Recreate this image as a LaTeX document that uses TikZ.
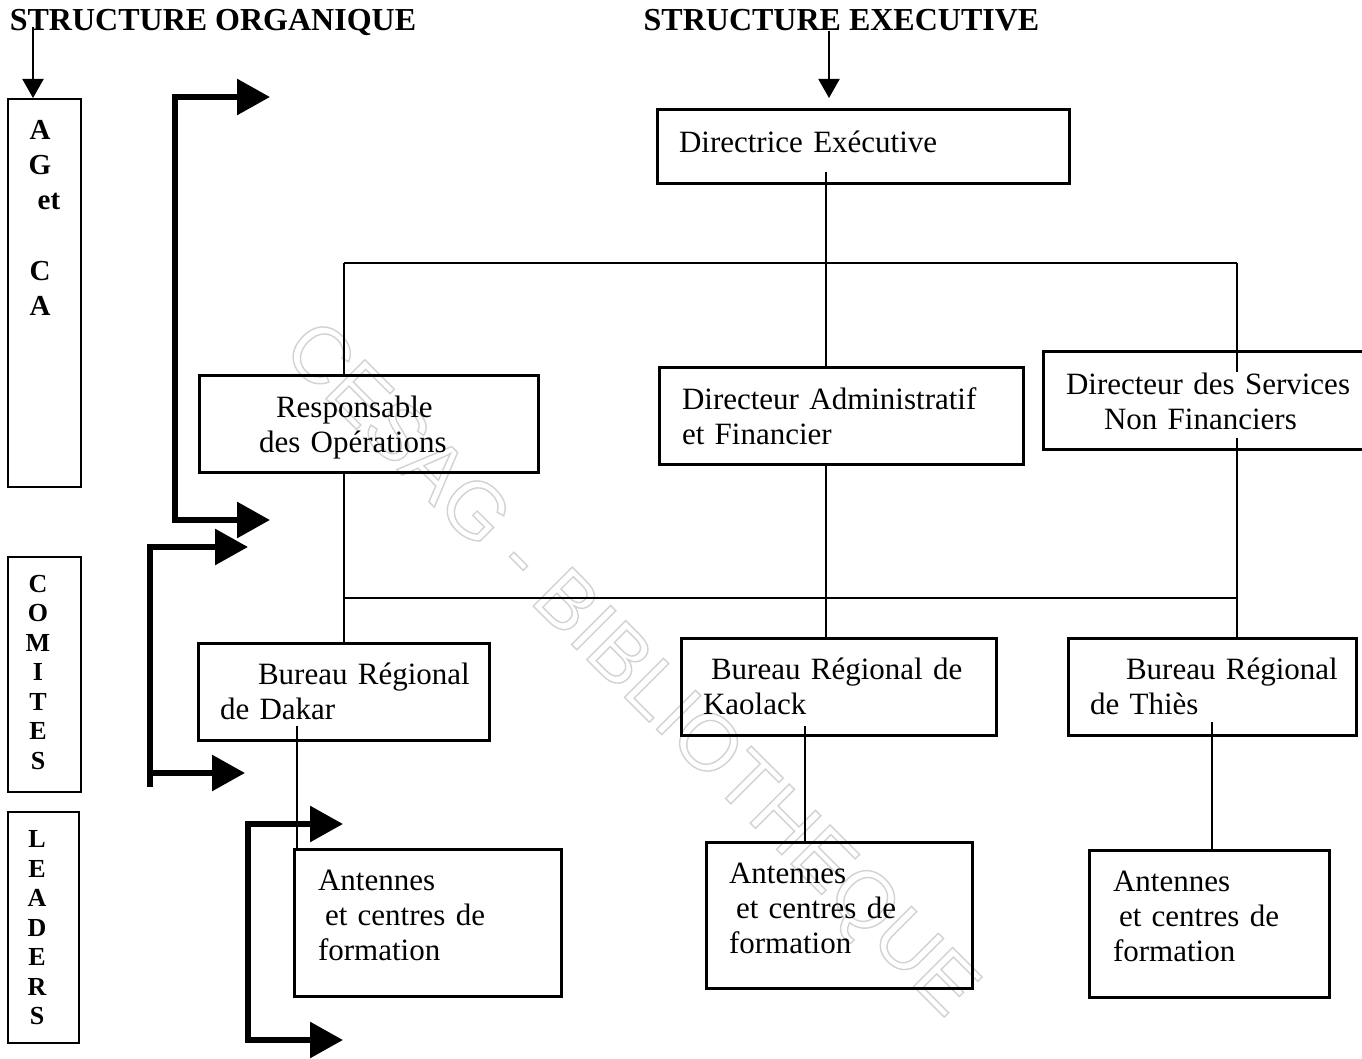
\documentclass[tikz,border=0pt]{standalone}
\usepackage{fontspec}
\setmainfont{Liberation Serif}
\newfontfamily\wmfont{Liberation Sans}
\usetikzlibrary{arrows.meta}
\newcommand{\oneline}[1]{\mbox{#1}}
\begin{document}
\begin{tikzpicture}[x=0.5pt,y=-0.5pt,
  every node/.style={outer sep=0pt},
  box/.style={draw, line width=1.5pt, anchor=north west, align=left, inner ysep=0pt,
    font=\fontsize{15.5}{17.5}\selectfont},
  sidebox/.style={draw, line width=1pt, anchor=north west, inner sep=0pt},
  sideletters/.style={align=center, inner sep=0pt, font=\bfseries\fontsize{14.5}{17.6}\selectfont},
  smallletters/.style={align=center, inner sep=0pt, font=\bfseries\fontsize{13}{14.75}\selectfont},
  title/.style={font=\bfseries\fontsize{16}{19}\selectfont, inner sep=0pt, anchor=base},
  conn/.style={line width=0.7pt},
  thinarrow/.style={line width=1pt, -{Triangle[length=9.5pt,width=10.5pt]}},
  bigtip/.style={line width=3pt, line join=miter},
  watermark/.style={rotate=-45, text=gray!35, inner sep=0pt,
    font=\wmfont\fontsize{40}{40}\selectfont}
]
\useasboundingbox (0,0) rectangle (1362,1059);
\fill[white] (0,0) rectangle (1362,1059);

% watermark
\node[watermark] (wm) at (628,672) {\special{pdf:literal direct 1 Tr 0.7 w}CESAG - BIBLIOTHEQUE\special{pdf:literal direct 0 Tr}};

% titles
\node[title] (t1) at (213,31) {STRUCTURE ORGANIQUE};
\node[title] (t2) at (841.5,31) {STRUCTURE EXECUTIVE};
\coordinate (a1s) at (33,27);
\coordinate (a1e) at (33,98);
\coordinate (a2s) at (829,31);
\coordinate (a2e) at (829,98);
\draw[thinarrow] (a1s) -- (a1e);
\draw[thinarrow] (a2s) -- (a2e);

% side boxes
\node[sidebox, minimum width=36.5pt, minimum height=194pt] (ag) at (8,99) {};
\node[sideletters] (agt) at (40,218) {A\\G\\\hspace*{9pt}et\\[17.6pt]C\\A};
\node[sidebox, minimum width=36.5pt, minimum height=117.5pt] (com) at (8,557) {};
\node[smallletters] (comt) at (38,672.5) {C\\O\\M\\I\\T\\E\\S};
\node[sidebox, minimum width=35.5pt, minimum height=115.5pt] (lead) at (8,812) {};
\node[smallletters] (leadt) at (37,928) {L\\E\\A\\D\\E\\R\\S};

% main boxes
\node[box, minimum height=37pt, inner xsep=11pt, text width=184pt] (de) at (657,110)
  {\oneline{Directrice Exécutive}\\[-12.5pt]\mbox{}};
\node[box, minimum height=48.5pt, inner xsep=30pt, text width=109.5pt] (rop) at (199,376)
  {\oneline{\rule{0pt}{13.6pt}\hspace*{8.5pt}Responsable}\\\oneline{des Opérations}};
\node[box, minimum height=48.5pt, inner xsep=11.5pt, text width=159pt] (daf) at (659,368)
  {\oneline{Directeur Administratif}\\\oneline{et Financier}};
\node[box, minimum height=49pt, inner xsep=11.5pt, text width=141.5pt] (dsnf) at (1043,352)
  {\oneline{Directeur des Services}\\\oneline{\hspace*{19pt}Non Financiers}};
\node[box, minimum height=48.5pt, inner xsep=11pt, text width=123.5pt] (brd) at (198,643)
  {\oneline{\hspace*{19pt}Bureau Régional}\\\oneline{de Dakar}};
\node[box, minimum height=48.5pt, inner xsep=11pt, text width=135.5pt] (brk) at (681,638)
  {\oneline{\hspace*{4pt}Bureau Régional de}\\\oneline{Kaolack}};
\node[box, minimum height=48.5pt, inner xsep=11pt, text width=122pt] (brt) at (1068,638)
  {\oneline{\hspace*{18pt}Bureau Régional}\\\oneline{de Thiès}};
\node[box, minimum height=73.5pt, inner xsep=12pt, text width=109.5pt] (acd) at (294,849)
  {\oneline{Antennes}\\\oneline{\hspace*{3.5pt}et centres de}\\\oneline{formation}\\[-10.5pt]\mbox{}};
\node[box, minimum height=73pt, inner xsep=11.5pt, text width=110pt] (ack) at (706,842)
  {\oneline{Antennes}\\\oneline{\hspace*{3.5pt}et centres de}\\\oneline{formation}\\[-10.5pt]\mbox{}};
\node[box, minimum height=73.5pt, inner xsep=12pt, text width=96pt] (act) at (1089,850)
  {\oneline{Antennes}\\\oneline{\hspace*{3pt}et centres de}\\\oneline{formation}\\[-10.5pt]\mbox{}};

% connectors
\coordinate (dein) at (826,172);
\coordinate (jtl) at (344,263);
\coordinate (jtr) at (1237,263);
\coordinate (dsnfa) at (1237,372);
\coordinate (dsnfb) at (1237,438);
\coordinate (jbl) at (344,598);
\coordinate (jbr) at (1237,598);
\coordinate (brdin) at (297,726);
\coordinate (brkin) at (805,726);
\coordinate (brtin) at (1212,722);
\draw[conn] (dein) -- (dein |- daf.north);
\draw[conn] (jtl) -- (jtr);
\draw[conn] (jtl) -- (jtl |- rop.north);
\draw[conn] (jtr) -- (dsnfa);
\draw[conn] (jbl |- rop.south) -- (jbl |- brd.north);
\draw[conn] (jbl) -- (jbr);
\draw[conn] (dein |- daf.south) -- (dein |- brk.north);
\draw[conn] (dsnfb) -- (dsnfb |- brt.north);
\draw[conn] (brdin) -- (brdin |- acd.north);
\draw[conn] (brkin) -- (brkin |- ack.north);
\draw[conn] (brtin) -- (brtin |- act.north);

% thick bracket arrows
\coordinate (b1t) at (270,97);
\coordinate (b1u) at (175,97);
\coordinate (b1d) at (175,520);
\coordinate (b1b) at (270,520);
\draw[bigtip, {Triangle[length=16.5pt,width=17.5pt]}-{Triangle[length=16.5pt,width=17.5pt]}]
  (b1t) -- (b1u) -- (b1d) -- (b1b);
\coordinate (b2t) at (248,547);
\coordinate (b2u) at (150,547);
\coordinate (b2d) at (150,787);
\coordinate (b2m) at (150,773);
\coordinate (b2b) at (245,773);
\draw[bigtip, {Triangle[length=16.5pt,width=17.5pt]}-] (b2t) -- (b2u) -- (b2d);
\draw[bigtip, -{Triangle[length=16.5pt,width=17.5pt]}] (b2m) -- (b2b);
\coordinate (b3t) at (343,824);
\coordinate (b3u) at (248,824);
\coordinate (b3d) at (248,1040);
\coordinate (b3b) at (343,1040);
\draw[bigtip, {Triangle[length=16.5pt,width=17.5pt]}-{Triangle[length=16.5pt,width=17.5pt]}]
  (b3t) -- (b3u) -- (b3d) -- (b3b);
\end{tikzpicture}
\end{document}
